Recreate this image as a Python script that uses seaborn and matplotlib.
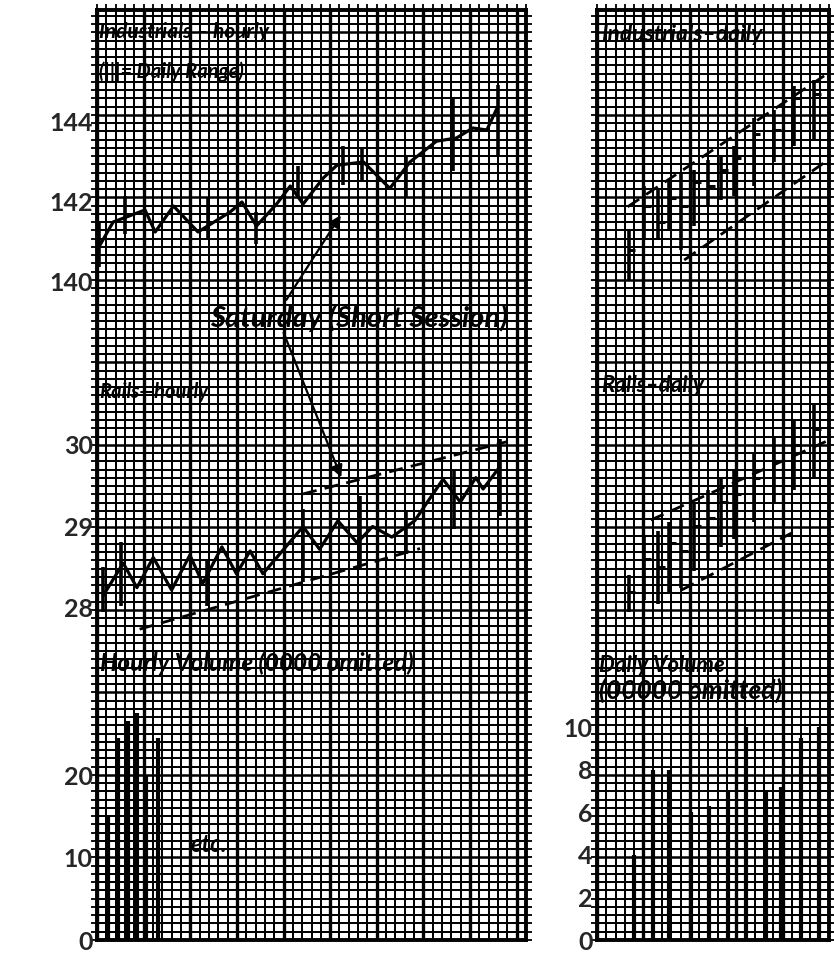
import numpy as np
import seaborn as sns
import matplotlib.pyplot as plt

# ---------------- left sheet: hourly ----------------
ind_hour = [0.26, 1.73, 5.15, 6.24, 8.2, 10.83, 14.27, 15.54, 17.1, 19.26, 20.73, 22.1, 24.26, 25.73,
            28.57, 31.4, 33.56, 36.4, 38.54, 40.3, 41.8, 42.9]
ind_value = [140.9, 141.5, 141.8, 141.25, 141.9, 141.25, 141.75, 142.0, 141.4, 141.95, 142.4,
             141.95, 142.6, 142.92, 143.0, 142.34, 143.0, 143.52, 143.6, 143.85, 143.8, 144.35]
ind_bar_hour = [0.26, 3.0, 11.92, 17.1, 21.52, 26.42, 28.37, 33.17, 38.17, 42.97]
ind_bar_low = [140.38, 141.21, 141.08, 140.96, 142.09, 142.42, 142.54, 142.09, 142.77, 143.17]
ind_bar_high = [141.53, 142.16, 142.09, 141.76, 142.89, 143.40, 143.35, 143.17, 144.60, 144.93]

rail_hour = [0.65, 2.81, 4.28, 6.03, 8.0, 9.96, 11.33, 13.39, 14.95, 16.42, 17.79, 22.1, 23.87, 25.83,
             27.89, 29.55, 31.61, 34.06, 37.1, 38.96, 40.62, 41.4, 43.17]
rail_value = [28.15, 28.55, 28.25, 28.62, 28.22, 28.65, 28.3, 28.75, 28.42, 28.7, 28.42, 29.0,
              28.72, 29.07, 28.80, 29.0, 28.87, 29.07, 29.58, 29.30, 29.60, 29.46, 29.73]
rail_bar_hour = [0.65, 2.61, 11.82, 22.1, 28.18, 33.17, 38.27, 43.17]
rail_bar_low = [27.95, 28.02, 28.02, 28.32, 28.48, 28.66, 28.97, 29.13]
rail_bar_high = [28.50, 28.81, 28.60, 29.21, 29.37, 29.20, 29.71, 30.07]
rail_low_trend = ([4.57, 34.64], [27.74, 28.73])
rail_high_trend = ([22.1, 43.95], [29.40, 30.04])

vol_hour = [1.2, 2.3, 3.3, 4.3, 5.3, 6.5]
vol_value = [15, 24.5, 26.5, 27.5, 20, 24.5]

# ---------------- right sheet: daily ----------------
day_pos = [3.4, 5.1, 6.6, 7.8, 9.1, 10.5, 12.0, 13.4, 14.8, 16.9, 19.1, 21.2, 23.4]
ind_day_low = [140.05, 141.05, 141.05, 141.3, 140.8, 141.4, 141.9, 142.05, 142.15, 142.4, 143.0, 143.4, 143.55]
ind_day_high = [141.3, 142.4, 142.3, 142.5, 142.7, 142.8, 143.05, 143.15, 143.4, 144.1, 144.3, 144.9, 145.05]
ind_day_close = [140.8, 141.9, 141.5, 142.1, 141.9, 142.5, 142.4, 142.8, 143.1, 143.7, 143.8, 144.6, 144.7]
ind_day_high_trend = ([3.3, 24.9], [141.88, 145.22])
ind_day_low_trend = ([9.4, 24.9], [140.55, 143.05])

rail_day_low = [27.95, 28.1, 28.05, 28.2, 28.25, 28.45, 28.6, 28.75, 28.85, 29.05, 29.3, 29.45, 29.6]
rail_day_high = [28.4, 28.9, 28.95, 29.05, 29.1, 29.3, 29.45, 29.6, 29.7, 29.9, 30.1, 30.3, 30.5]
rail_day_close = [28.2, 28.6, 28.5, 28.8, 28.7, 29.0, 29.1, 29.3, 29.4, 29.6, 29.8, 30.0, 30.2]
rail_day_high_trend = ([5.8, 25.0], [29.08, 30.06])
rail_day_low_trend = ([9.1, 22.0], [28.22, 28.98])

vday_pos = [4.0, 6.0, 7.8, 10.1, 12.1, 14.1, 16.1, 18.2, 19.8, 22.0, 23.9]
vday_value = [4, 8, 8, 6, 6.3, 7, 10, 7, 7.2, 9.5, 10]

sns.set_theme(style="white")
plt.rcParams['font.family'] = ['Lato', 'DejaVu Sans']

W, H = 834, 955
fig = plt.figure(figsize=(W / 100, H / 100), dpi=100)
fig.patch.set_facecolor("white")

TOP, BOT = 10, 940


def rect(x0, x1):
    return [x0 / W, 1 - BOT / H, (x1 - x0) / W, (BOT - TOP) / H]


def paper(r, ncols, nrows):
    ax = fig.add_axes(r)
    ax.set_xlim(0, ncols)
    ax.set_ylim(0, nrows)
    ax.set_xticks(np.arange(0, ncols + 0.1, 5))
    ax.set_xticks(np.arange(0, ncols + 0.1, 1), minor=True)
    ax.set_yticks(np.arange(0, nrows, 10))
    ax.set_yticks(np.arange(0, nrows, 1), minor=True)
    ax.grid(which="minor", color="black", lw=1.45)
    ax.grid(which="major", axis="x", color="black", lw=2.4)
    ax.grid(which="major", axis="y", color="black", lw=1.8)
    ax.tick_params(which="both", direction="out", length=4, width=1.3, color="black",
                   top=True, left=True, right=True, bottom=False,
                   labelleft=False, labelbottom=False)
    for s in ax.spines.values():
        s.set_color("black")
        s.set_linewidth(2.8)
    ax.set_axisbelow(True)
    return ax


def data_ax(r, ncols, v0, p0, scale):
    ax = fig.add_axes(r)
    ax.patch.set_visible(False)
    for s in ax.spines.values():
        s.set_visible(False)
    ax.set_xlim(0, ncols)
    ax.set_ylim(v0 - (BOT - p0) / scale, v0 + (p0 - TOP) / scale)
    ax.set_xticks([])
    ax.tick_params(axis="y", length=0, pad=3, labelsize=18)
    ax.set_yticks([])
    return ax


LC = 46
left = rect(97, 526)
pl = paper(left, LC, 112.7)

a_ind = data_ax(left, LC, 140, 282, 40.0)
a_rail = data_ax(left, LC, 28, 608, 81.5)
a_vol = data_ax(left, LC, 0, 940, 8.25)

for ax, ticks in [(a_ind, [140, 142, 144]), (a_rail, [28, 29, 30]), (a_vol, [0, 10, 20])]:
    ax.set_yticks(ticks)
    ax.set_yticklabels([str(t) for t in ticks], fontweight="bold")

sns.lineplot(x=ind_hour, y=ind_value, ax=a_ind, color="black", lw=2.3, sort=False)
a_ind.vlines(ind_bar_hour, ind_bar_low, ind_bar_high, color="black", lw=2.6)

sns.lineplot(x=rail_hour, y=rail_value, ax=a_rail, color="black", lw=2.3, sort=False)
a_rail.vlines(rail_bar_hour, rail_bar_low, rail_bar_high, color="black", lw=2.6)
for tx, ty in [rail_low_trend, rail_high_trend]:
    a_rail.plot(tx, ty, color="black", lw=2, dashes=(5, 3))

a_vol.vlines(vol_hour, 0, vol_value, color="black", lw=3)

txt = dict(style="italic", fontweight="bold", color="black", va="center")
pl.text(0.2, 110, "Industrials – hourly", fontsize=15, **txt)
pl.text(0.2, 105.2, "(|||= Daily Range)", fontsize=14.5, **txt)
pl.text(12.1, 75.4, "Saturday (Short Session)", fontsize=21, **txt)
pl.text(0.2, 66.4, "Rails—hourly", fontsize=14.5, **txt)
pl.text(0.3, 33.5, "Hourly Volume (0000 omitted)", fontsize=17.5, **txt)
pl.text(10.0, 11.6, "etc.", fontsize=17, **txt)

arrow = dict(arrowstyle="-|>", color="black", lw=1.6, mutation_scale=18)
a_ind.annotate("", xy=(26.3, 141.73), xytext=(20.15, 77.3), textcoords=pl.transData, arrowprops=arrow)
a_rail.annotate("", xy=(26.3, 29.57), xytext=(19.9, 73.9), textcoords=pl.transData, arrowprops=arrow)

# right sheet
RC = 25
right = rect(597, 829)
pr = paper(right, RC, 112.7)

b_ind = data_ax(right, RC, 140, 282, 40.0)
b_rail = data_ax(right, RC, 28, 608, 81.5)
b_vol = data_ax(right, RC, 0, 940, 21.3)
b_vol.set_yticks([0, 2, 4, 6, 8, 10])
b_vol.set_yticklabels(["0", "2", "4", "6", "8", "10"], fontweight="bold")

for ax, lo, hi, cl in [(b_ind, ind_day_low, ind_day_high, ind_day_close),
                       (b_rail, rail_day_low, rail_day_high, rail_day_close)]:
    ax.vlines(day_pos, lo, hi, color="black", lw=2.6)
    ax.hlines(cl, day_pos, np.array(day_pos) + 0.7, color="black", lw=2.2)

for ax, tr in [(b_ind, ind_day_high_trend), (b_ind, ind_day_low_trend),
               (b_rail, rail_day_high_trend), (b_rail, rail_day_low_trend)]:
    ax.plot(tr[0], tr[1], color="black", lw=2, dashes=(5, 3))

b_vol.vlines(vday_pos, 0, vday_value, color="black", lw=3)

pr.text(0.4, 109.7, "Industrials–daily", fontsize=16.5, **txt)
pr.text(0.4, 67.2, "Rails–daily", fontsize=16, **txt)
pr.text(0.2, 33.3, "Daily Volume", fontsize=16, **txt)
pr.text(0.2, 30.2, "(00000 omitted)", fontsize=19, **txt)

fig.savefig("out.png", dpi=100)
